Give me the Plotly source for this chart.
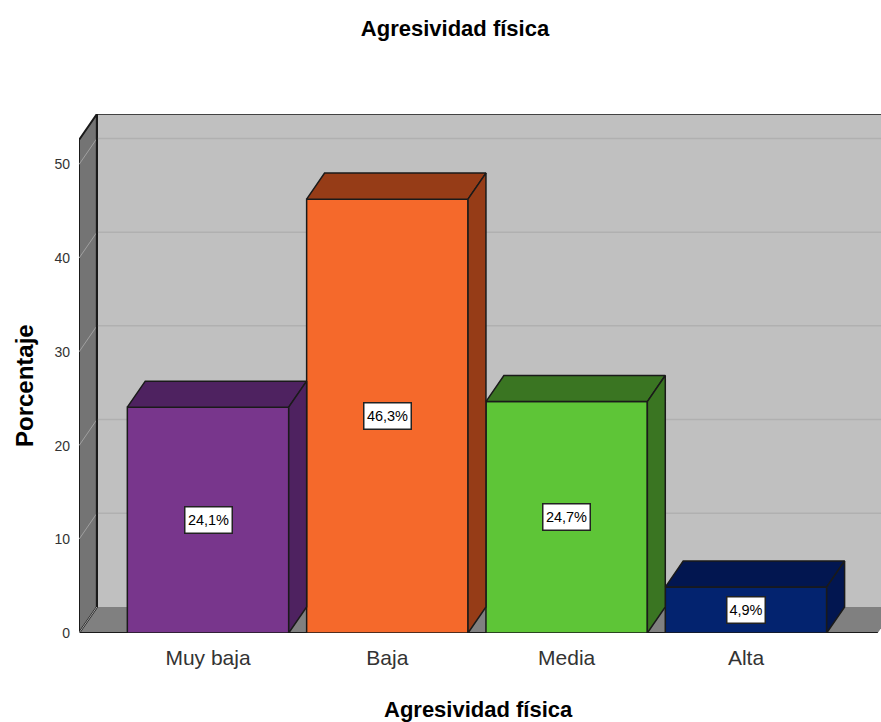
import plotly.graph_objects as go

categories = ["Muy baja", "Baja", "Media", "Alta"]
values = [24.1, 46.3, 24.7, 4.9]
labels = ["24,1%", "46,3%", "24,7%", "4,9%"]
y_ticks = [0, 10, 20, 30, 40, 50]
front_colors = ["#78368C", "#F5692B", "#5EC537", "#03236F"]
top_colors = ["#4E2260", "#963C17", "#3A7522", "#021650"]

BAR_W = 0.9
DX = 0.1  # depth of the fake 3d box, x axis units
DY = 2.78  # same in y units
X_MIN, X_MAX = -0.7195, 3.753
X_FRONT_END = 3.735
Y_MAX = 55.39
FONT = "Liberation Sans"
EDGE = "#1a1a1a"


def poly(xs, ys, fill, line=EDGE, width=1.5):
    path = "M " + " L ".join(f"{x},{y}" for x, y in zip(xs, ys)) + " Z"
    return dict(
        type="path",
        path=path,
        xref="x",
        yref="y",
        fillcolor=fill,
        line=dict(color=line, width=width),
        layer="below",
    )


def seg(x0, y0, x1, y1, color, width=1.5):
    return dict(
        type="line",
        x0=x0,
        y0=y0,
        x1=x1,
        y1=y1,
        xref="x",
        yref="y",
        line=dict(color=color, width=width),
        layer="below",
    )


top_wall = Y_MAX - DY
shapes = [
    # back wall, floor and left wall
    poly(
        [X_MIN + DX, X_MAX, X_MAX, X_MIN + DX],
        [DY, DY, Y_MAX, Y_MAX],
        "#C0C0C0",
        line="#C0C0C0",
        width=0,
    ),
    poly(
        [X_MIN, X_MIN + DX, X_FRONT_END + DX, X_FRONT_END],
        [0, DY, DY, 0],
        "#808080",
        line="#808080",
        width=0,
    ),
    poly(
        [X_MIN, X_MIN + DX, X_MIN + DX, X_MIN],
        [0, DY, Y_MAX, top_wall],
        "#747474",
        width=2,
    ),
    seg(X_MIN + DX, Y_MAX, X_MAX, Y_MAX, EDGE),
    seg(X_MIN, 0, X_FRONT_END, 0, EDGE, 2),
]
for t in y_ticks[1:]:
    shapes.append(seg(X_MIN + DX, t + DY, X_MAX, t + DY, "#B0B0B0", 1.5))
    shapes.append(seg(X_MIN, t, X_MIN + DX, t + DY, "#A0A0A0", 1))
shapes.append(seg(X_MIN, 0, X_MIN + DX, DY, "#A0A0A0", 1))
shapes.append(seg(X_MIN + DX, DY, X_MIN + DX, Y_MAX, EDGE, 2))

fig = go.Figure()
fig.add_trace(
    go.Bar(
        x=list(range(len(categories))),
        y=values,
        width=BAR_W,
        marker=dict(color=front_colors, line=dict(color=EDGE, width=1.5)),
        hoverinfo="skip",
    )
)

# top and side faces of every bar
for i, v in enumerate(values):
    left = i - BAR_W / 2
    right = i + BAR_W / 2
    fig.add_trace(
        go.Scatter(
            x=[left, left + DX, right + DX, right, left],
            y=[v, v + DY, v + DY, v, v],
            mode="lines",
            fill="toself",
            fillcolor=top_colors[i],
            line=dict(color=EDGE, width=1.5),
            hoverinfo="skip",
        )
    )
    fig.add_trace(
        go.Scatter(
            x=[right, right + DX, right + DX, right, right],
            y=[v, v + DY, DY, 0, v],
            mode="lines",
            fill="toself",
            fillcolor=top_colors[i],
            line=dict(color=EDGE, width=1.5),
            hoverinfo="skip",
        )
    )

for i, (v, lab) in enumerate(zip(values, labels)):
    fig.add_annotation(
        x=i,
        y=v / 2,
        text=lab,
        showarrow=False,
        bgcolor="#FFFFFF",
        bordercolor="#222222",
        borderwidth=1.5,
        borderpad=0,
        width=9 * len(lab) + 1,
        height=25,
        font=dict(family=FONT, size=14.5, color="#000000"),
    )

# axis titles sit off centre in the reference, so they are annotations
fig.add_annotation(
    x=399 / 802,
    y=-76 / 519,
    xref="paper",
    yref="paper",
    xanchor="center",
    yanchor="middle",
    text="<b>Agresividad física</b>",
    showarrow=False,
    font=dict(family=FONT, size=22, color="#000000"),
)
fig.add_annotation(
    x=-55 / 802,
    y=247 / 519,
    xref="paper",
    yref="paper",
    xanchor="center",
    yanchor="middle",
    text="<b>Porcentaje</b>",
    textangle=-90,
    showarrow=False,
    font=dict(family=FONT, size=24, color="#000000"),
)

fig.update_layout(
    width=881,
    height=722,
    margin=dict(l=79, r=0, t=114, b=89, pad=0),
    paper_bgcolor="#FFFFFF",
    plot_bgcolor="#FFFFFF",
    showlegend=False,
    shapes=shapes,
    font=dict(family=FONT, color="#000000"),
    title=dict(
        text="<b>Agresividad física</b>",
        x=455 / 881,
        xanchor="center",
        y=1 - 28 / 722,
        yanchor="middle",
        font=dict(family=FONT, size=22, color="#000000"),
    ),
    xaxis=dict(
        range=[X_MIN, X_MAX],
        tickmode="array",
        tickvals=list(range(len(categories))),
        ticktext=categories,
        tickfont=dict(size=21, color="#333333"),
        ticklabelstandoff=10,
        showgrid=False,
        zeroline=False,
        showline=False,
        ticks="",
    ),
    yaxis=dict(
        range=[0, Y_MAX],
        tickmode="array",
        tickvals=y_ticks,
        tickfont=dict(size=14, color="#333333"),
        ticklabelstandoff=8,
        showgrid=False,
        zeroline=False,
        showline=False,
        ticks="",
    ),
)

fig.write_html(
    "out.html",
    config={"displayModeBar": False},
    post_script="document.body.style.margin='0';",
)
